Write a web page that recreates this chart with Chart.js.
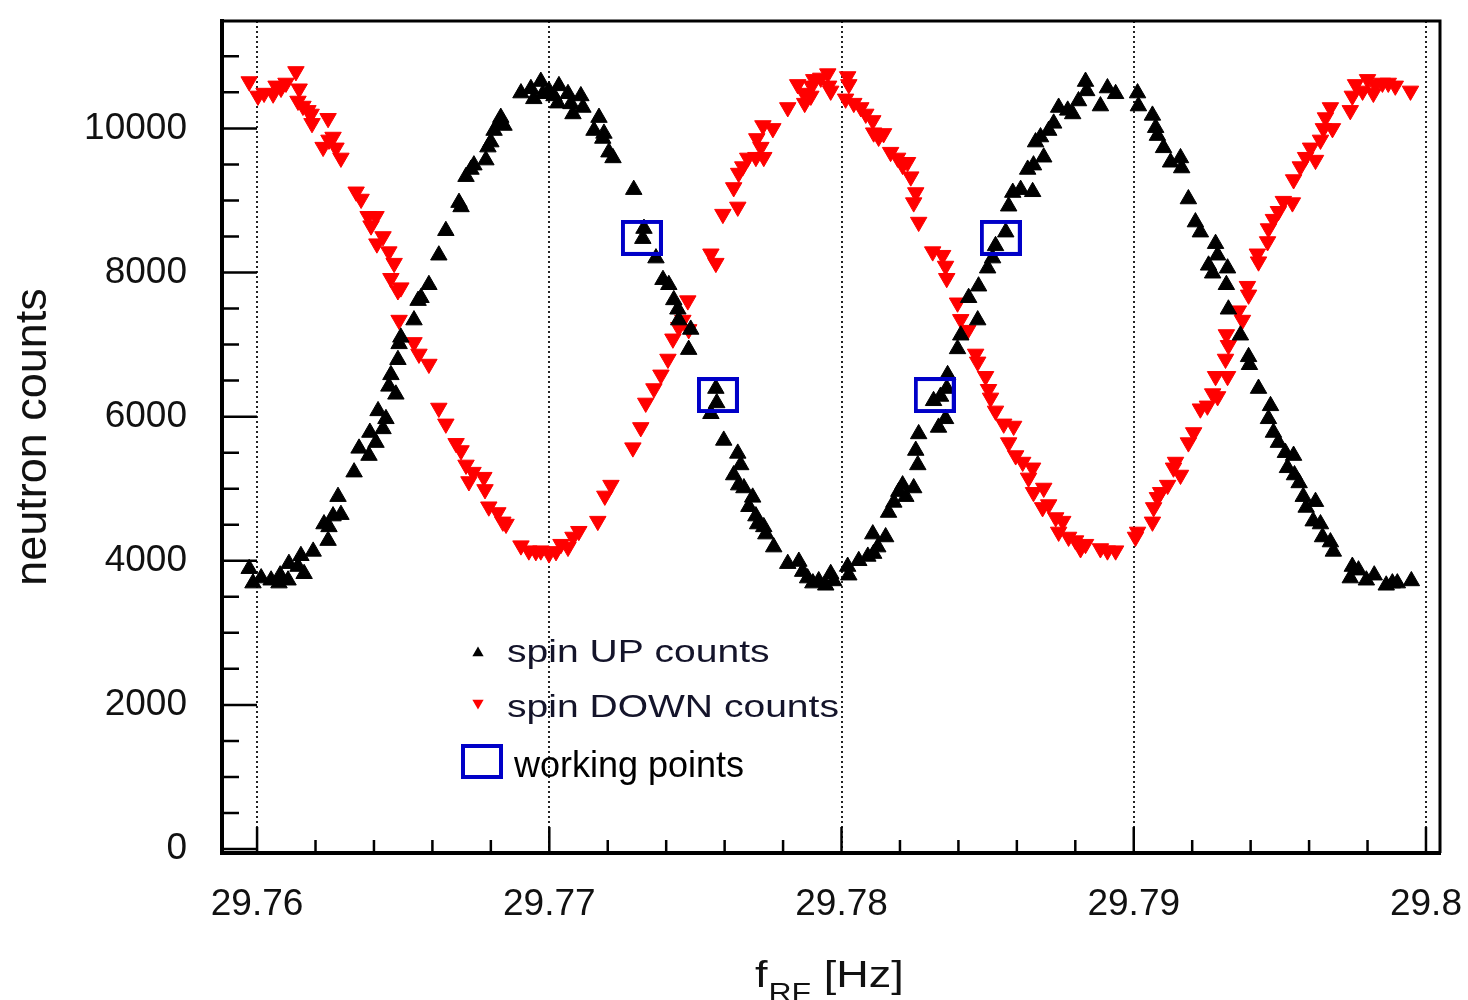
<!DOCTYPE html>
<html>
<head>
<meta charset="utf-8">
<title>neutron counts vs f_RF</title>
<script src="https://cdn.jsdelivr.net/npm/chart.js@4.4.1/dist/chart.umd.min.js"></script>
<style>
    html, body { margin: 0; padding: 0; background: #fff; }
    #scan { display: block; }
</style>
</head>
<body>
<canvas id="scan" width="1468" height="1000"></canvas>
<script>
/****************** DATA **********************/

// spin UP counts (black triangles)
var upFreq = [
    29.75973, 29.75986, 29.76014, 29.76048, 29.76075, 29.76079, 29.76106, 29.76109, 29.76140, 29.76150,
    29.76161, 29.76192, 29.76229, 29.76243, 29.76246, 29.76260, 29.76277, 29.76287, 29.76332, 29.76349,
    29.76383, 29.76386, 29.76407, 29.76414, 29.76431, 29.76441, 29.76451, 29.76458, 29.76475, 29.76482,
    29.76486, 29.76492, 29.76537, 29.76551, 29.76561, 29.76588, 29.76622, 29.76646, 29.76691, 29.76698,
    29.76715, 29.76732, 29.76742, 29.76783, 29.76790, 29.76800, 29.76811, 29.76828, 29.76834, 29.76845,
    29.76903, 29.76937, 29.76947, 29.76971, 29.76978, 29.76999, 29.77016, 29.77029, 29.77033, 29.77064,
    29.77074, 29.77081, 29.77108, 29.77115, 29.77153, 29.77170, 29.77183, 29.77187, 29.77204, 29.77218,
    29.77289, 29.77320, 29.77324, 29.77365, 29.77389, 29.77409, 29.77426, 29.77440, 29.77443, 29.77477,
    29.77484, 29.77553, 29.77570, 29.77573, 29.77597, 29.77631, 29.77645, 29.77648, 29.77655, 29.77666,
    29.77683, 29.77696, 29.77707, 29.77713, 29.77734, 29.77741, 29.77768, 29.77816, 29.77854, 29.77867,
    29.77884, 29.77902, 29.77922, 29.77946, 29.77963, 29.77973, 29.78021, 29.78025, 29.78059, 29.78090,
    29.78107, 29.78110, 29.78124, 29.78151, 29.78161, 29.78179, 29.78196, 29.78209, 29.78220, 29.78247,
    29.78254, 29.78261, 29.78264, 29.78315, 29.78332, 29.78339, 29.78356, 29.78360, 29.78363, 29.78397,
    29.78408, 29.78435, 29.78466, 29.78469, 29.78500, 29.78517, 29.78527, 29.78562, 29.78572, 29.78586,
    29.78613, 29.78637, 29.78654, 29.78657, 29.78664, 29.78681, 29.78692, 29.78709, 29.78726, 29.78743,
    29.78774, 29.78791, 29.78811, 29.78835, 29.78839, 29.78886, 29.78910, 29.78938, 29.79013, 29.79016,
    29.79064, 29.79075, 29.79081, 29.79102, 29.79126, 29.79160, 29.79164, 29.79187, 29.79211, 29.79228,
    29.79256, 29.79270, 29.79280, 29.79287, 29.79317, 29.79321, 29.79324, 29.79365, 29.79393, 29.79396,
    29.79427, 29.79461, 29.79468, 29.79478, 29.79495, 29.79519, 29.79526, 29.79547, 29.79550, 29.79566,
    29.79580, 29.79590, 29.79614, 29.79622, 29.79639, 29.79646, 29.79673, 29.79683, 29.79741, 29.79748,
    29.79769, 29.79796, 29.79823, 29.79864, 29.79885, 29.79902, 29.79950
];
var upCounts = [
    3890, 3690, 3760, 3730, 3690, 3800, 3730, 3960, 3920, 4070,
    3820, 4130, 4510, 4280, 4470, 4620, 4890, 4640, 5230, 5560,
    5460, 5780, 5640, 6080, 5830, 5970, 6420, 6580, 6310, 6790,
    7010, 7100, 7340, 7610, 7650, 7830, 8240, 8580, 8970, 8910,
    9330, 9430, 9490, 9560, 9740, 9810, 9970, 10080, 10150, 10040,
    10490, 10550, 10410, 10650, 10480, 10520, 10450, 10350, 10590, 10480,
    10340, 10200, 10450, 10290, 9970, 10150, 9860, 9930, 9670, 9590,
    9150, 8470, 8610, 8200, 7900, 7830, 7620, 7490, 7340, 6930,
    7210, 6040, 6390, 6190, 5670, 5190, 5490, 5050, 5330, 5010,
    4750, 4880, 4620, 4510, 4470, 4370, 4190, 3960, 3990, 3850,
    3760, 3690, 3720, 3660, 3820, 3720, 3920, 3800, 4000, 4060,
    4370, 4100, 4190, 4330, 4670, 4810, 4960, 5050, 4890, 5010,
    5530, 5330, 5760, 6220, 5850, 6280, 5970, 6390, 6580, 6940,
    7130, 7650, 7340, 7810, 8060, 8200, 8370, 8560, 8920, 9110,
    9150, 9430, 9120, 9490, 9810, 9880, 9600, 9970, 10070, 10290,
    10250, 10200, 10380, 10650, 10520, 10310, 10560, 10480, 10490, 10310,
    10180, 10010, 9900, 9730, 9530, 9590, 9450, 9020, 8700, 8560,
    8100, 7990, 8400, 8240, 7830, 8060, 7490, 7130, 6830, 6720,
    6390, 5970, 6150, 5780, 5640, 5500, 5290, 5460, 5190, 5080,
    4890, 4740, 4550, 4820, 4510, 4330, 4260, 4130, 3760, 3920,
    3870, 3730, 3800, 3660, 3690, 3690, 3720
];

// spin DOWN counts (red triangles)
var downFreq = [
    29.75973, 29.76003, 29.76024, 29.76055, 29.76065, 29.76082, 29.76099, 29.76133, 29.76140, 29.76144,
    29.76157, 29.76174, 29.76185, 29.76188, 29.76226, 29.76243, 29.76246, 29.76260, 29.76270, 29.76287,
    29.76339, 29.76356, 29.76380, 29.76390, 29.76407, 29.76410, 29.76431, 29.76451, 29.76458, 29.76469,
    29.76482, 29.76486, 29.76492, 29.76537, 29.76554, 29.76588, 29.76622, 29.76646, 29.76681, 29.76698,
    29.76715, 29.76725, 29.76739, 29.76776, 29.76780, 29.76793, 29.76824, 29.76841, 29.76852, 29.76903,
    29.76930, 29.76954, 29.76971, 29.76999, 29.77023, 29.77040, 29.77064, 29.77081, 29.77101, 29.77166,
    29.77190, 29.77211, 29.77286, 29.77313, 29.77330, 29.77358, 29.77382, 29.77406, 29.77423, 29.77443,
    29.77457, 29.77474, 29.77477, 29.77553, 29.77570, 29.77594, 29.77631, 29.77645, 29.77648, 29.77662,
    29.77679, 29.77707, 29.77710, 29.77724, 29.77731, 29.77734, 29.77765, 29.77816, 29.77850, 29.77871,
    29.77874, 29.77895, 29.77898, 29.77905, 29.77929, 29.77953, 29.77956, 29.77963, 29.78014, 29.78021,
    29.78025, 29.78042, 29.78066, 29.78083, 29.78107, 29.78110, 29.78127, 29.78144, 29.78168, 29.78192,
    29.78209, 29.78226, 29.78237, 29.78247, 29.78254, 29.78264, 29.78312, 29.78346, 29.78356, 29.78360,
    29.78397, 29.78408, 29.78432, 29.78459, 29.78466, 29.78493, 29.78503, 29.78510, 29.78527, 29.78555,
    29.78572, 29.78589, 29.78596, 29.78620, 29.78640, 29.78654, 29.78657, 29.78688, 29.78692, 29.78709,
    29.78733, 29.78743, 29.78757, 29.78777, 29.78801, 29.78818, 29.78835, 29.78886, 29.78910, 29.78938,
    29.79006, 29.79013, 29.79064, 29.79068, 29.79081, 29.79092, 29.79116, 29.79136, 29.79143, 29.79160,
    29.79187, 29.79205, 29.79228, 29.79252, 29.79270, 29.79280, 29.79287, 29.79314, 29.79317, 29.79321,
    29.79324, 29.79358, 29.79372, 29.79389, 29.79393, 29.79423, 29.79427, 29.79458, 29.79461, 29.79478,
    29.79495, 29.79512, 29.79543, 29.79547, 29.79570, 29.79588, 29.79605, 29.79622, 29.79639, 29.79649,
    29.79656, 29.79673, 29.79680, 29.79741, 29.79748, 29.79759, 29.79783, 29.79800, 29.79820, 29.79827,
    29.79851, 29.79871, 29.79895, 29.79947
];
var downCounts = [
    10650, 10450, 10490, 10480, 10590, 10560, 10630, 10790, 10380, 10550,
    10310, 10250, 10200, 10070, 9740, 10140, 9840, 9880, 9730, 9590,
    9120, 9020, 8780, 8650, 8780, 8400, 8500, 8290, 7920, 8130,
    7750, 7340, 7790, 7030, 6870, 6730, 6120, 5900, 5630, 5530,
    5330, 5100, 5230, 5160, 4990, 4750, 4670, 4540, 4510, 4210,
    4140, 4130, 4140, 4100, 4130, 4230, 4190, 4330, 4410, 4550,
    4900, 5050, 5570, 5850, 6190, 6390, 6580, 6800, 7080, 7240,
    7340, 7610, 7210, 8260, 8130, 8810, 9180, 8910, 9380, 9470,
    9590, 9600, 9860, 9740, 10040, 9600, 10000, 10290, 10610, 10490,
    10350, 10450, 10590, 10680, 10700, 10760, 10590, 10520, 10410, 10720,
    10610, 10350, 10290, 10200, 10110, 9940, 9880, 9930, 9670, 9590,
    9490, 9530, 9330, 8970, 9110, 8700, 8290, 8240, 8090, 7920,
    7580, 7350, 7200, 6870, 6760, 6560, 6380, 6260, 6080, 5900,
    5640, 5870, 5460, 5370, 5150, 5290, 4950, 4740, 5010, 4780,
    4600, 4400, 4550, 4330, 4280, 4170, 4230, 4170, 4140, 4140,
    4330, 4400, 4540, 4740, 4880, 4950, 5050, 5290, 5370, 5190,
    5640, 5780, 6110, 6150, 6320, 6560, 6280, 6800, 7140, 6560,
    6990, 7470, 7340, 7810, 7690, 8260, 8150, 8430, 8610, 8740,
    8850, 8990, 8970, 9290, 9470, 9600, 9730, 9560, 9840, 10000,
    10150, 10290, 10000, 10250, 10450, 10610, 10520, 10680, 10490, 10610,
    10630, 10630, 10590, 10520
];

// working points (blue boxes)
var workFreq = [29.77317, 29.77577, 29.78319, 29.78545];
var workCounts = [8480, 6300, 6300, 8480];

// axes
var xTicks = [29.76, 29.77, 29.78, 29.79, 29.8];
var yTicks = [0, 2000, 4000, 6000, 8000, 10000];
var xRange = [29.7588, 29.80048];
var yRange = [-55, 11490];

/****************** LISTENER **********************/

document.addEventListener('DOMContentLoaded', function () {
    makeScanChart();
});

/****************** FONCTION **********************/

var FONT = '"Liberation Sans", Arial, Helvetica, sans-serif';

function pairUp(xs, ys)
{
    return xs.map(function (x, i) {
        return {x: x, y: ys[i]};
    });
}

/** Boite bleue des points de travail */
function makeBoxMarker()
{
    var c = document.createElement('canvas');
    c.width = 42;
    c.height = 36;
    var g = c.getContext('2d');
    g.strokeStyle = '#0000c8';
    g.lineWidth = 4;
    g.strokeRect(2, 2, 38, 32);
    return c;
}

function triangle(ctx, x, y, r, up)
{
    var s = up ? 1 : -1;
    ctx.beginPath();
    ctx.moveTo(x, y - s * r);
    ctx.lineTo(x + r * 0.866, y + s * r * 0.5);
    ctx.lineTo(x - r * 0.866, y + s * r * 0.5);
    ctx.closePath();
    ctx.fill();
}

function wideText(ctx, str, x, y, size, stretch)
{
    ctx.save();
    ctx.font = size + 'px ' + FONT;
    ctx.translate(x, y);
    ctx.scale(stretch, 1);
    ctx.fillText(str, 0, 0);
    var w = ctx.measureText(str).width * stretch;
    ctx.restore();
    return w;
}

/** Pas de marge automatique autour des axes : la zone du graphe est fixee par layout.padding */
function noScalePadding(scale)
{
    scale.paddingTop = 0;
    scale.paddingBottom = 0;
    scale.paddingLeft = 0;
    scale.paddingRight = 0;
}

/** Cadre, graduations internes, legende et titre X facon ROOT */
var rootFrame = {
    id: 'rootFrame',
    afterDraw: function (chart) {
        var ctx = chart.ctx;
        var a = chart.chartArea;
        var xs = chart.scales.x;
        var ys = chart.scales.y;
        var v, k, p, len;

        ctx.save();
        ctx.strokeStyle = '#000';
        ctx.lineWidth = 3;
        ctx.beginPath();
        ctx.moveTo(a.left, a.top);
        ctx.lineTo(a.right, a.top);
        ctx.lineTo(a.right, a.bottom);
        ctx.stroke();

        ctx.lineWidth = 2.5;
        ctx.beginPath();
        for (v = 0; v <= ys.max; v += 500) {
            p = ys.getPixelForValue(v);
            len = (v % 2000 === 0) ? 35 : 17;
            ctx.moveTo(a.left, p);
            ctx.lineTo(a.left + len, p);
        }
        for (k = 0; k <= 20; k++) {
            v = xTicks[0] + k * 0.002;
            if (v > xs.max) break;
            p = xs.getPixelForValue(v);
            len = (k % 5 === 0) ? 26 : 13;
            ctx.moveTo(p, a.bottom);
            ctx.lineTo(p, a.bottom - len);
        }
        ctx.stroke();

        // legende
        ctx.fillStyle = '#000';
        triangle(ctx, 478, 653, 6.5, true);
        ctx.fillStyle = '#ff0000';
        triangle(ctx, 478, 703, 6.5, false);
        ctx.strokeStyle = '#0000c8';
        ctx.lineWidth = 4;
        ctx.strokeRect(463, 746, 38, 31);

        ctx.fillStyle = '#14142a';
        ctx.textBaseline = 'alphabetic';
        wideText(ctx, 'spin UP counts', 507, 662, 32, 1.22);
        wideText(ctx, 'spin DOWN counts', 507, 717, 32, 1.22);
        ctx.fillStyle = '#000';
        wideText(ctx, 'working points', 514, 777, 36, 1.0);

        // titre X : f_RF [Hz]
        ctx.fillStyle = '#111';
        var x0 = 755;
        x0 += wideText(ctx, 'f', x0, 987, 36, 1.25) + 1;
        x0 += wideText(ctx, 'RF', x0, 1001, 26, 1.23);
        wideText(ctx, ' [Hz]', x0, 987, 36, 1.25);
        ctx.restore();
    }
};

function makeScanChart()
{
    var ctx = document.getElementById('scan').getContext('2d');

    window.scanChart = new Chart(ctx, {
        type: 'scatter',
        data: {
            datasets: [{
                label: 'working points',
                data: pairUp(workFreq, workCounts),
                pointStyle: makeBoxMarker(),
                pointRadius: 20
            }, {
                label: 'spin UP counts',
                data: pairUp(upFreq, upCounts),
                pointStyle: 'triangle',
                pointRadius: 9.5,
                backgroundColor: '#000',
                borderColor: '#000',
                borderWidth: 1
            }, {
                label: 'spin DOWN counts',
                data: pairUp(downFreq, downCounts),
                pointStyle: 'triangle',
                rotation: 180,
                pointRadius: 9.5,
                backgroundColor: '#ff0000',
                borderColor: '#ff0000',
                borderWidth: 1
            }]
        },
        options: {
            responsive: false,
            devicePixelRatio: 1,
            animation: false,
            events: [],
            layout: {
                padding: {top: 8, right: 28, left: 0, bottom: 0}
            },
            plugins: {
                legend: {display: false},
                tooltip: {enabled: false}
            },
            scales: {
                x: {
                    type: 'linear',
                    min: xRange[0],
                    max: xRange[1],
                    afterBuildTicks: function (scale) {
                        scale.ticks = xTicks.map(function (v) { return {value: v}; });
                    },
                    afterFit: function (scale) {
                        scale.height = 147;
                        noScalePadding(scale);
                    },
                    ticks: {
                        padding: 30,
                        color: '#111',
                        font: {family: FONT, size: 37},
                        maxRotation: 0,
                        callback: function (v) { return String(+v.toFixed(2)); }
                    },
                    grid: {
                        display: true,
                        drawTicks: false,
                        color: '#222',
                        lineWidth: 2
                    },
                    border: {display: true, color: '#000', width: 4, dash: [2, 3]}
                },
                y: {
                    type: 'linear',
                    min: yRange[0],
                    max: yRange[1],
                    afterBuildTicks: function (scale) {
                        scale.ticks = yTicks.map(function (v) { return {value: v}; });
                    },
                    afterFit: function (scale) {
                        scale.width = 222;
                        noScalePadding(scale);
                    },
                    ticks: {
                        padding: 35,
                        color: '#111',
                        font: {family: FONT, size: 37},
                        callback: function (v) { return String(v); }
                    },
                    grid: {display: false, drawTicks: false},
                    border: {display: true, color: '#000', width: 4},
                    title: {
                        display: true,
                        text: 'neutron counts',
                        color: '#111',
                        font: {family: FONT, size: 45},
                        padding: {top: 7, bottom: 0}
                    }
                }
            }
        },
        plugins: [rootFrame]
    });
}
</script>
</body>
</html>
